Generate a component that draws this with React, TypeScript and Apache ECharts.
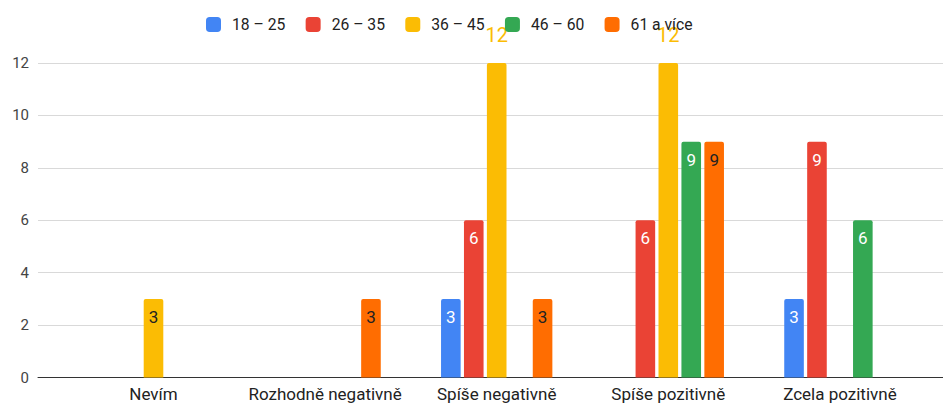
import React, { useEffect, useRef } from "react";
import * as echarts from "echarts";

const categories = ["Nevím", "Rozhodně negativně", "Spíše negativně", "Spíše pozitivně", "Zcela pozitivně"];
const seriesNames = ["18 – 25", "26 – 35", "36 – 45", "46 – 60", "61 a více"];
const colors = ["#4285F4", "#EA4335", "#FBBC04", "#34A853", "#FF6D01"];
const labelColors = ["#ffffff", "#ffffff", "#222222", "#ffffff", "#222222"];
const age18_25 = [null, null, 3, null, 3];
const age26_35 = [null, null, 6, 6, 9];
const age36_45 = [3, null, 12, 12, null];
const age46_60 = [null, null, null, 9, 6];
const age61plus = [null, 3, 3, 9, null];
const yTicks = [0, 2, 4, 6, 8, 10, 12];

const allSeries = [age18_25, age26_35, age36_45, age46_60, age61plus];

export default function App() {
  const ref = useRef<HTMLDivElement>(null);
  useEffect(() => {
    if (!ref.current) return;
    const chart = echarts.init(ref.current, null, { renderer: "svg" });
    const yMax = yTicks[yTicks.length - 1];
    const font = "Roboto, Arial, sans-serif";
    const gTop = 63;
    const gBottom = 25.5;
    chart.setOption({
      animation: false,
      textStyle: { fontFamily: font },
      legend: {
        data: seriesNames,
        left: 206,
        top: 16.5,
        padding: 0,
        itemWidth: 15,
        itemHeight: 15,
        itemGap: 20.3,
        icon: "roundRect",
        textStyle: { fontSize: 15.7, color: "#222", fontFamily: font, padding: [0, 0, 0, 6] },
      },
      grid: [
        { left: 67.7, right: 17.3, top: gTop, bottom: gBottom },
        { left: 38, right: 0, top: gTop, bottom: gBottom },
      ],
      xAxis: [
        {
          gridIndex: 0,
          type: "category",
          data: categories,
          axisLine: { show: false },
          axisTick: { show: false },
          axisLabel: { fontSize: 17, color: "#222", margin: 8, fontFamily: font, interval: 0 },
        },
        {
          gridIndex: 1,
          type: "value",
          min: 0,
          max: 1,
          axisLine: { show: true, lineStyle: { color: "#333", width: 1 } },
          axisTick: { show: false },
          axisLabel: { show: false },
          splitLine: { show: false },
        },
      ],
      yAxis: [
        {
          gridIndex: 0,
          type: "value",
          min: 0,
          max: yMax,
          interval: 2,
          axisLabel: { show: false },
          splitLine: { show: false },
          axisLine: { show: false },
          axisTick: { show: false },
        },
        {
          gridIndex: 1,
          type: "value",
          min: 0,
          max: yMax,
          interval: 2,
          axisLine: { show: false },
          axisTick: { show: false },
          axisLabel: { fontSize: 15, color: "#444", margin: 9, fontFamily: font },
          splitLine: { show: true, lineStyle: { color: "#d9d9d9", width: 1 } },
        },
      ],
      series: allSeries.map((vals, i) => ({
        name: seriesNames[i],
        type: "bar",
        xAxisIndex: 0,
        yAxisIndex: 0,
        barWidth: 19.6,
        barGap: "17%",
        itemStyle: { color: colors[i], borderRadius: [2, 2, 0, 0] },
        label: {
          show: true,
          position: "insideTop",
          distance: 9.5,
          fontSize: 17,
          color: labelColors[i],
          fontFamily: font,
        },
        data: vals.map((v) =>
          v === null
            ? "-"
            : v >= yMax
            ? {
                value: v,
                label: { position: "top", distance: 18, fontSize: 20, color: colors[i] },
              }
            : v
        ),
      })),
    });
    return () => chart.dispose();
  }, []);
  return (
    <div
      ref={ref}
      style={{ position: "fixed", left: 0, top: 0, width: 943, height: 403, background: "#fff" }}
    />
  );
}
